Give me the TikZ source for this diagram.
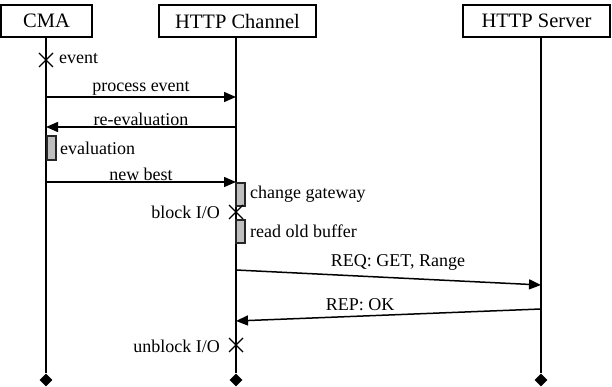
\documentclass[tikz,border=0pt]{standalone}
\usepackage{fontspec}
\setmainfont{Liberation Serif}
\usetikzlibrary{arrows.meta,shapes.geometric,calc}
\begin{document}
\begin{tikzpicture}[x=1pt,y=-1pt,
  head/.style={draw,line width=1.2pt,inner sep=0pt,font=\fontsize{20.5}{22}\selectfont},
  life/.style={line width=1.3pt},
  msg/.style={line width=1.5pt,-{Triangle[length=12pt,width=10pt]}},
  lbl/.style={font=\fontsize{18}{20}\selectfont,inner sep=1pt},
  act/.style={draw=black!85,fill=black!25,line width=1.1pt},
  xmark/.style={line width=1.4pt},
  endd/.style={diamond,fill=black,inner sep=0pt,minimum size=13pt}]
\useasboundingbox (0,0) rectangle (612,387);
% headers
\node[head,minimum width=91pt,minimum height=32pt] (cma) at (46.5,21) {CMA};
\node[head,minimum width=157pt,minimum height=32pt] (chan) at (237.5,21) {HTTP Channel};
\node[head,minimum width=147pt,minimum height=32pt] (serv) at (536.5,21) {HTTP Server};
% lifeline ends
\node[endd] (e1) at (46,380) {};
\node[endd] (e2) at (236,380) {};
\node[endd] (e3) at (541,380) {};
\draw[life] (46,37) -- (e1.north);
\draw[life] (236,37) -- (e2.north);
\draw[life] (541,37) -- (e3.north);
% event
\coordinate (x1) at (46,60);
\draw[xmark] ($(x1)+(-7,-7)$) -- ($(x1)+(7,7)$) ($(x1)+(-7,7)$) -- ($(x1)+(7,-7)$);
\node[lbl,anchor=west] (levent) at (58,59) {event};
% process event
\coordinate (p1) at (46,97); \coordinate (p2) at (236,97);
\draw[msg] (p1) -- node[lbl,above=0pt] {process event} (p2);
% re-evaluation
\coordinate (r1) at (236,127); \coordinate (r2) at (46,127);
\draw[msg] (r1) -- node[lbl,above=0pt] {re-evaluation} (r2);
% evaluation
\draw[act] (47,136) rectangle (56,160);
\node[lbl,anchor=west] (leval) at (59,148) {evaluation};
% new best
\coordinate (n1) at (46,182); \coordinate (n2) at (236,182);
\draw[msg] (n1) -- node[lbl,above=0pt] {new best} (n2);
% change gateway
\draw[act] (236,183) rectangle (245,206);
\node[lbl,anchor=west] (lcg) at (249,194) {change gateway};
% block I/O
\coordinate (x2) at (236,212);
\draw[xmark] ($(x2)+(-7,-7)$) -- ($(x2)+(7,7)$) ($(x2)+(-7,7)$) -- ($(x2)+(7,-7)$);
\node[lbl,anchor=east] (lblock) at (221,212) {block I/O};
% read old buffer
\draw[act] (236,220) rectangle (245,243);
\node[lbl,anchor=west] (lrob) at (249,231) {read old buffer};
% REQ
\coordinate (q1) at (236,270); \coordinate (q2) at (541,285);
\draw[msg] (q1) -- (q2);
\node[lbl] (lreq) at (398,262) {REQ: GET, Range};
% REP
\coordinate (s1) at (541,309); \coordinate (s2) at (236,321);
\draw[msg] (s1) -- (s2);
\node[lbl] (lrep) at (360,305) {REP: OK};
% unblock
\coordinate (x3) at (236,345);
\draw[xmark] ($(x3)+(-7,-7)$) -- ($(x3)+(7,7)$) ($(x3)+(-7,7)$) -- ($(x3)+(7,-7)$);
\node[lbl,anchor=east] (lunblock) at (221,346) {unblock I/O};
\end{tikzpicture}
\end{document}
